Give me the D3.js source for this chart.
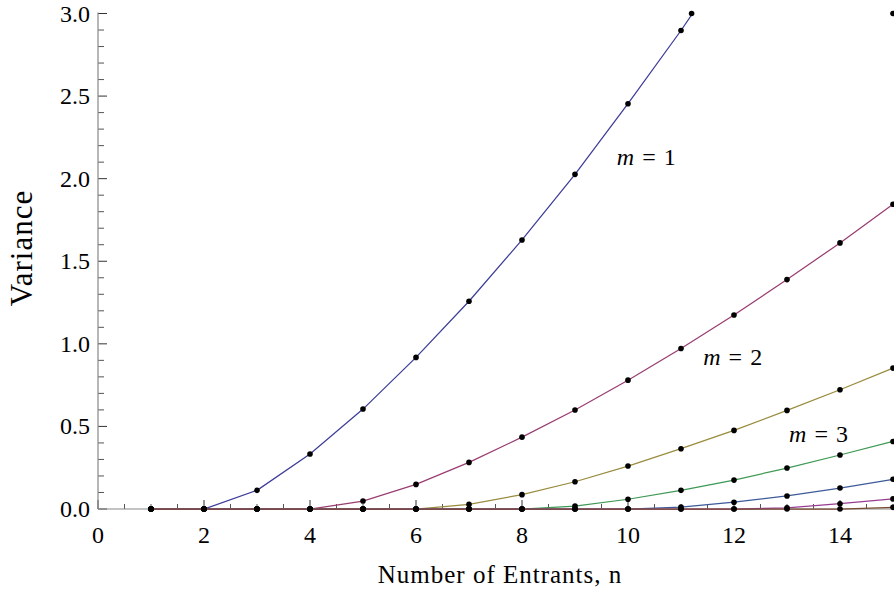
<!DOCTYPE html>
<html><head><meta charset="utf-8">
<script src="https://cdn.jsdelivr.net/npm/d3@7"></script>
<style>
html,body{margin:0;padding:0;background:#fff;}
svg text{font-family:"Liberation Serif","Times New Roman",serif;fill:#000;}
</style></head>
<body><div id="chart"></div>
<script>
// ---- data ----
const nValues = [1,2,3,4,5,6,7,8,9,10,11,12,13,14,15];
const seriesNames = ["m = 1","m = 2","m = 3","m = 4","m = 5","m = 6","m = 7"];
const m1 = [0,0,0.113,0.333,0.605,0.918,1.258,1.629,2.026,2.454,2.897,3.37];
const m2 = [0,0,0,0,0.048,0.149,0.282,0.435,0.599,0.780,0.972,1.175,1.389,1.611,1.845];
const m3 = [0,0,0,0,0,0,0.028,0.087,0.165,0.260,0.365,0.476,0.597,0.722,0.853];
const m4 = [0,0,0,0,0,0,0,0,0.018,0.059,0.113,0.175,0.248,0.327,0.409];
const m5 = [0,0,0,0,0,0,0,0,0,0,0.012,0.041,0.079,0.127,0.180];
const m6 = [0,0,0,0,0,0,0,0,0,0,0,0,0.007,0.032,0.061];
const m7 = [0,0,0,0,0,0,0,0,0,0,0,0,0,0,0.010];
const seriesValues = [m1,m2,m3,m4,m5,m6,m7];
const edgeN = [11.2, 15];      // markers drawn where m=1 leaves the plot range
const edgeV = [3.0, 3.0];
const xTicks = [0,2,4,6,8,10,12,14];
const yTicks = [0.0,0.5,1.0,1.5,2.0,2.5,3.0];
const labelText = ["1","2","3"];
const labelN = [9.79, 11.42, 13.04];
const labelV = [2.08, 0.871, 0.407];
const colors = ["#3d3d99","#993d71","#998c3d","#3d9954","#3d5a99","#993d90","#7a4a30"];

// ---- chart ----
const W = 894, H = 600;
const svg = d3.select("#chart").append("svg").attr("width", W).attr("height", H);
const x = d3.scaleLinear().domain([0,15]).range([98, 893]);
const y = d3.scaleLinear().domain([0,3]).range([509, 13.5]);

svg.append("defs").append("clipPath").attr("id","clip")
  .append("rect").attr("x", x(0)).attr("y", y(3)).attr("width", x(15)-x(0)+2).attr("height", y(0)-y(3)+2);

const axisColor = "#888";
const xMinor = d3.range(0.5, 15.01, 0.5).filter(v => v % 2 !== 0);
const gx = svg.append("g");
gx.selectAll("line.minor").data(xMinor).join("line")
  .attr("x1", d=>x(d)).attr("x2", d=>x(d)).attr("y1", y(0)).attr("y2", y(0)-5)
  .attr("stroke","#555").attr("stroke-width",1);
gx.selectAll("line.major").data(xTicks).join("line")
  .attr("x1", d=>x(d)).attr("x2", d=>x(d)).attr("y1", y(0)).attr("y2", y(0)-9)
  .attr("stroke","#333").attr("stroke-width",1);
gx.selectAll("text").data(xTicks).join("text")
  .attr("x", d=>x(d)).attr("y", 543).attr("text-anchor","middle")
  .attr("font-size", 24).text(d=>d);

const gy = svg.append("g");
const yMinor = d3.range(0, 3.001, 0.1).filter(v => Math.abs(v*2 - Math.round(v*2)) > 1e-6);
gy.selectAll("line.minor").data(yMinor).join("line")
  .attr("x1", x(0)).attr("x2", x(0)+6).attr("y1", d=>y(d)).attr("y2", d=>y(d))
  .attr("stroke","#555").attr("stroke-width",1);
gy.selectAll("line.major").data(yTicks).join("line")
  .attr("x1", x(0)).attr("x2", x(0)+9).attr("y1", d=>y(d)).attr("y2", d=>y(d))
  .attr("stroke","#333").attr("stroke-width",1);
gy.selectAll("text").data(yTicks).join("text")
  .attr("x", 90).attr("y", d=>y(d)+8).attr("text-anchor","end")
  .attr("font-size", 24).text(d=>d.toFixed(1));

svg.append("line").attr("x1", x(0)).attr("x2", x(0)).attr("y1", y(0)).attr("y2", y(3)-1)
  .attr("stroke", axisColor).attr("stroke-width", 1.2);
svg.append("line").attr("x1", x(0)).attr("x2", W).attr("y1", y(0)).attr("y2", y(0))
  .attr("stroke", axisColor).attr("stroke-width", 1.2);

// lines
const line = d3.line().x(d=>x(d[0])).y(d=>y(d[1]));
const gl = svg.append("g").attr("clip-path","url(#clip)");
seriesValues.forEach((vals, i) => {
  const pts = vals.map((v, j) => [nValues[j], v]);
  gl.append("path").attr("d", line(pts)).attr("fill","none")
    .attr("stroke", colors[i]).attr("stroke-width", 1.25);
});
// points
const gp = svg.append("g");
seriesValues.forEach((vals, i) => {
  const pts = vals.map((v, j) => [nValues[j], v]).filter(p => p[1] <= 3);
  gp.selectAll(null).data(pts).join("circle")
    .attr("cx", d=>x(d[0])).attr("cy", d=>y(d[1])).attr("r", 2.8).attr("fill","#000");
});
gp.selectAll(null).data(edgeN.map((n,i)=>[n, edgeV[i]])).join("circle")
  .attr("cx", d=>x(d[0])).attr("cy", d=>y(d[1])).attr("r", 2.8).attr("fill","#000");

// annotations
labelText.forEach((t, i) => {
  const tx = svg.append("text").attr("x", x(labelN[i])).attr("y", y(labelV[i])).attr("font-size", 24);
  tx.append("tspan").attr("font-style","italic").text("m");
  tx.append("tspan").text("\u2004=\u2004" + t);
});

// axis titles
svg.append("text").attr("x", 500).attr("y", 583).attr("text-anchor","middle")
  .attr("font-size", 25).attr("letter-spacing", 1).text("Number of Entrants, n");
svg.append("text").attr("transform","translate(32,248) rotate(-90)").attr("text-anchor","middle")
  .attr("font-size", 31).attr("letter-spacing", 1).text("Variance");
</script></body></html>
